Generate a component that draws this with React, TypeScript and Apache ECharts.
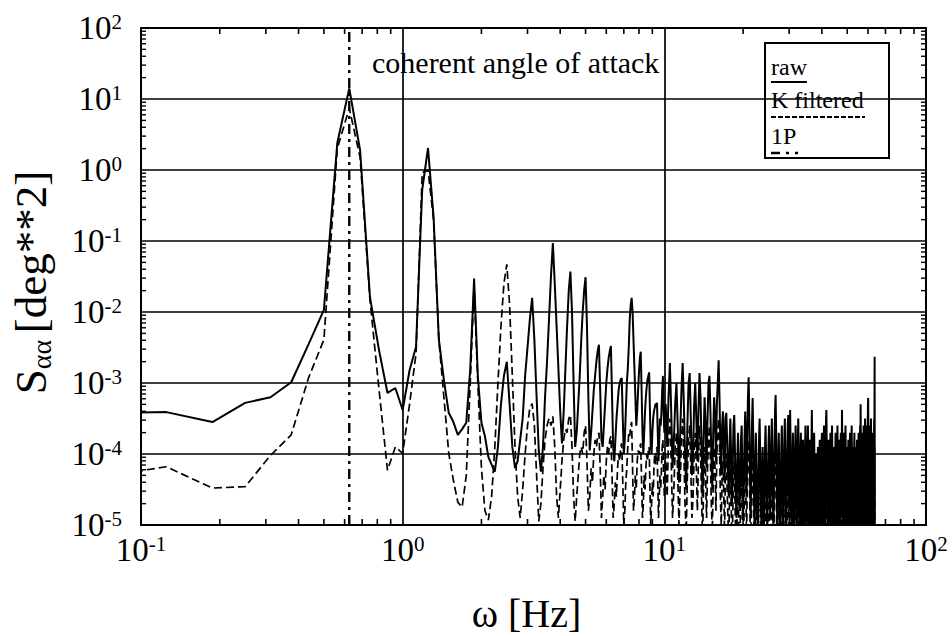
import React, { useEffect, useRef } from 'react';
import * as echarts from 'echarts';

// ---------- data ----------
// Low band: frequency grid k/16 Hz, k = 1..160 (0.0625 .. 10 Hz); values are log10(S)
const LOW_STEP = 1 / 16;
const rawLowLog = [
  -3.43, -3.41, -3.55, -3.28, -3.20, -2.99, -2.45, -1.97, 0.38, 1.15,
  0.28, -1.79, -2.54, -3.14, -3.07, -3.38, -2.82, -2.49, -0.28, 0.31,
  -0.66, -2.39, -2.96, -3.42, -3.55, -3.73, -3.65, -3.56, -2.80, -1.53,
  -2.90, -3.56, -3.75, -4.04, -4.15, -4.25, -3.90, -3.30, -2.90, -2.70,
  -3.30, -3.90, -4.20, -4.10, -3.80, -3.50, -2.90, -2.50, -2.10, -1.80,
  -2.40, -3.20, -3.95, -4.25, -3.90, -3.20, -2.70, -2.10, -1.50, -1.03,
  -1.60, -2.20, -2.80, -3.40, -3.85, -3.40, -2.80, -2.20, -1.70, -1.43,
  -2.00, -3.00, -3.90, -3.70, -3.30, -2.90, -2.40, -2.00, -1.70, -1.51,
  -2.20, -3.20, -3.95, -3.70, -3.40, -3.10, -2.90, -2.70, -2.55, -2.46,
  -3.10, -3.80, -3.90, -3.60, -3.30, -3.00, -2.80, -2.65, -2.55, -2.48,
  -3.20, -3.90, -4.10, -3.80, -3.50, -3.30, -3.10, -3.00, -2.95, -2.93,
  -3.50, -4.00, -3.80, -3.40, -3.00, -2.80, -2.50, -2.10, -1.90, -1.80,
  -2.00, -2.40, -2.80, -3.20, -3.60, -3.40, -3.10, -2.85, -2.65, -2.56,
  -3.10, -3.70, -4.00, -3.70, -3.40, -3.20, -3.05, -2.95, -2.90, -2.85,
  -3.40, -3.90, -4.00, -3.70, -3.50, -3.40, -3.35, -3.30, -3.30, -3.28,
  -3.70, -4.10, -3.80, -3.50, -3.60, -3.40, -3.10, -2.90, -3.40, -3.70,
];
const filtLowLog = [
  -4.35, -4.18, -4.48, -4.46, -4.02, -3.73, -2.92, -2.39, 0.30, 0.87,
  0.18, -1.83, -3.10, -4.23, -3.90, -3.99, -3.30, -2.58, -0.04, 0.00,
  -0.70, -2.39, -3.20, -3.99, -4.37, -4.68, -4.75, -4.30, -3.00, -1.62,
  -3.00, -4.20, -4.80, -4.93, -4.60, -3.90, -3.00, -2.20, -1.60, -1.33,
  -1.90, -2.90, -3.90, -4.60, -4.90, -4.50, -4.00, -3.60, -3.35, -3.29,
  -3.60, -4.30, -4.95, -4.70, -4.20, -3.80, -3.60, -3.50, -3.60, -3.47,
  -3.90, -4.60, -4.90, -4.50, -4.10, -3.80, -3.65, -3.70, -3.50, -3.45,
  -3.90, -4.60, -4.95, -4.60, -4.30, -4.00, -3.90, -4.00, -3.70, -3.60,
  -4.10, -4.80, -4.60, -4.20, -4.40, -4.00, -3.80, -3.90, -3.75, -3.70,
  -4.20, -4.90, -4.60, -4.30, -4.50, -4.10, -3.90, -4.00, -3.80, -3.75,
  -4.30, -4.90, -4.70, -4.40, -4.60, -4.20, -4.00, -4.10, -3.90, -3.85,
  -4.40, -5.00, -4.80, -4.40, -4.20, -3.90, -3.70, -3.75, -3.60, -3.55,
  -4.20, -4.80, -4.60, -4.30, -4.50, -4.10, -3.95, -4.00, -3.90, -3.85,
  -4.40, -4.90, -4.70, -4.30, -4.50, -4.20, -4.00, -4.10, -3.95, -3.90,
  -4.50, -5.00, -4.70, -4.40, -4.60, -4.20, -4.00, -4.15, -3.95, -3.90,
  -4.40, -4.90, -4.60, -4.30, -4.50, -4.20, -3.90, -3.80, -4.30, -4.60,
];
// High band: 10 + j/8 Hz, j = 1..430 (10.125 .. 63.75 Hz); values are log10(S)
const HIGH_START = 10;
const HIGH_STEP = 1 / 8;
const rawHighLog = [
  -3.3, -3.9, -3.2, -2.72, -3.4, -4.2, -3.8, -3.3, -3.0, -3.6, -4.4, -3.7, -3.1, -2.72, -3.3, -4.0, -4.5, -3.6, -3.0, -2.86,
  -3.5, -4.3, -4.0, -3.3, -3.0, -3.5, -4.1, -3.4, -2.86, -3.2, -3.9, -4.6, -3.8, -3.2, -3.6, -4.2, -3.5, -3.0, -2.9, -3.4,
  -4.0, -4.5, -3.7, -3.2, -3.5, -4.1, -3.3, -3.0, -2.68, -3.2, -3.9, -4.3, -3.6, -3.4, -3.9, -4.4, -3.5, -3.42, -3.8, -4.2,
  -4.6, -3.9, -3.5, -4.0, -4.7, -4.2, -3.6, -3.45, -4.0, -4.6, -4.9, -4.1, -3.7, -4.2, -4.8, -4.4, -3.8, -3.6, -4.3, -4.9,
  -4.4, -3.8, -3.4, -3.9, -4.6, -3.7, -3.2, -2.92, -3.5, -4.3, -4.9, -4.2, -3.6, -3.21, -3.8, -4.5, -5.0, -4.3, -3.7, -4.2,
  -4.8, -5.1, -4.4, -3.8, -3.5, -4.0, -4.7, -5.0, -4.3, -3.9, -4.5, -5.2, -4.6, -3.9, -3.6, -4.1, -4.8, -5.1, -4.4, -3.9,
  -3.6, -4.2, -4.9, -4.5, -3.9, -3.5, -4.0, -4.7, -5.1, -4.4, -3.8, -3.4, -3.17, -3.7, -4.4, -5.0, -4.6, -4.0, -3.7, -4.3,
  -4.9, -5.2, -4.5, -3.9, -3.6, -4.1, -4.8, -5.0, -4.3, -3.8, -3.5, -4.0, -4.7, -5.2, -4.6, -4.0, -3.6, -3.45, -4.1, -4.8,
  -4.2, -3.38, -3.9, -4.6, -5.1, -4.7, -4.1, -3.7, -4.2, -4.9, -5.2, -4.5, -3.9, -3.6, -4.0, -4.7, -5.0, -4.4, -3.8, -3.5,
  -4.1, -4.8, -5.2, -4.6, -4.0, -3.7, -4.3, -5.0, -4.7, -4.1, -3.8, -4.4, -5.1, -4.8, -4.2, -3.9, -3.6, -4.2, -4.9, -5.2,
  -4.5, -3.9, -3.6, -4.1, -4.8, -5.1, -4.4, -3.8, -4.3, -4.9, -4.5, -3.9, -3.38, -4.0, -4.7, -5.2, -4.6, -4.0, -3.7, -4.3,
  -4.9, -5.2, -4.5, -4.0, -4.4, -5.0, -4.8, -4.2, -3.9, -4.5, -5.1, -4.7, -4.1, -3.8, -4.3, -4.9, -5.2, -4.6, -4.0, -3.7,
  -4.2, -4.8, -5.1, -4.5, -3.9, -3.6, -4.1, -4.7, -5.0, -4.4, -3.9, -3.5, -3.38, -3.9, -4.6, -5.1, -4.7, -4.1, -3.8, -4.3,
  -4.9, -5.2, -4.6, -4.0, -3.7, -4.2, -4.9, -4.5, -3.9, -3.6, -4.1, -4.8, -5.1, -4.4, -3.9, -4.3, -4.9, -5.2, -4.6, -4.0,
  -3.7, -4.2, -4.8, -5.1, -4.5, -3.9, -3.6, -4.0, -4.6, -5.0, -4.4, -3.8, -4.2, -4.8, -5.2, -4.6, -4.0, -3.7, -4.3, -4.9,
  -4.1, -3.38, -3.9, -4.6, -5.1, -4.6, -4.0, -3.7, -4.2, -4.8, -5.2, -4.5, -3.9, -3.6, -4.1, -4.7, -5.0, -4.4, -3.9, -4.4,
  -5.0, -4.7, -4.1, -3.8, -4.3, -4.9, -5.2, -4.5, -3.9, -3.7, -4.2, -4.8, -5.1, -4.4, -3.8, -3.6, -4.1, -4.7, -5.0, -4.4,
  -3.9, -4.4, -5.0, -4.6, -4.0, -3.7, -4.2, -4.9, -5.2, -4.5, -3.9, -4.3, -4.9, -4.6, -4.0, -3.8, -4.3, -4.9, -5.2, -4.6,
  -4.0, -3.7, -4.2, -4.8, -5.1, -4.5, -3.9, -3.6, -4.1, -3.3, -3.9, -4.6, -5.1, -4.6, -4.0, -3.7, -4.2, -4.8, -5.2, -4.5,
  -3.9, -3.6, -4.1, -4.7, -5.0, -4.4, -3.8, -3.5, -4.0, -4.6, -5.1, -4.6, -4.0, -3.6, -4.1, -4.7, -5.0, -4.3, -3.7, -3.3,
  -3.21, -3.8, -4.5, -5.0, -4.6, -4.0, -3.6, -4.1, -4.7, -5.1, -4.4, -3.8, -3.5, -4.0, -4.6, -5.0, -4.3, -3.7, -4.2, -4.8,
  -4.3, -3.8, -4.4, -5.0, -4.5, -3.9, -3.5, -4.1, -2.63, -5.2,
];
const filtHighLog = [
  -4.0, -4.6, -3.8, -3.5, -4.1, -4.9, -4.5, -3.9, -3.7, -4.3, -5.0, -4.4, -3.8, -3.5, -4.0, -4.7, -5.1, -4.3, -3.8, -3.6,
  -4.2, -4.9, -4.6, -4.0, -3.7, -4.2, -4.8, -4.1, -3.6, -3.9, -4.6, -5.2, -4.5, -3.9, -4.3, -4.9, -4.2, -3.8, -3.6, -4.1,
  -4.7, -5.1, -4.4, -3.9, -4.2, -4.8, -4.0, -3.7, -3.5, -3.9, -4.6, -5.0, -4.3, -4.1, -4.6, -5.1, -4.2, -4.0, -4.5, -4.9,
  -5.2, -4.6, -4.2, -4.7, -5.3, -4.9, -4.3, -4.1, -4.7, -5.2, -5.4, -4.8, -4.4, -4.9, -5.3, -5.0, -4.5, -4.3, -4.9, -5.3,
  -5.0, -4.5, -4.1, -4.6, -5.2, -4.4, -4.0, -3.8, -4.2, -4.9, -5.3, -4.8, -4.3, -4.0, -4.5, -5.1, -5.4, -4.9, -4.4, -4.8,
  -5.3, -5.4, -5.0, -4.5, -4.2, -4.7, -5.2, -5.4, -4.9, -4.5, -5.0, -5.4, -5.1, -4.6, -4.3, -4.8, -5.3, -5.4, -5.0, -4.6,
  -4.3, -4.8, -5.3, -5.1, -4.6, -4.2, -4.7, -5.2, -5.4, -5.0, -4.5, -4.1, -3.9, -4.4, -5.0, -5.4, -5.2, -4.7, -4.4, -4.9,
  -5.3, -5.4, -5.1, -4.6, -4.3, -4.8, -5.3, -5.4, -4.9, -4.5, -4.2, -4.7, -5.2, -5.4, -5.2, -4.7, -4.3, -4.1, -4.7, -5.2,
  -4.8, -4.1, -4.6, -5.2, -5.4, -5.2, -4.8, -4.4, -4.9, -5.3, -5.4, -5.0, -4.6, -4.3, -4.7, -5.2, -5.4, -5.0, -4.5, -4.2,
  -4.8, -5.3, -5.4, -5.1, -4.7, -4.4, -4.9, -5.4, -5.2, -4.8, -4.5, -5.0, -5.4, -5.3, -4.9, -4.6, -4.3, -4.8, -5.3, -5.4,
  -5.1, -4.6, -4.3, -4.8, -5.3, -5.4, -5.0, -4.5, -4.9, -5.3, -5.1, -4.6, -4.1, -4.7, -5.2, -5.4, -5.2, -4.7, -4.4, -4.9,
  -5.3, -5.4, -5.1, -4.7, -5.0, -5.4, -5.3, -4.9, -4.6, -5.1, -5.4, -5.2, -4.8, -4.5, -4.9, -5.3, -5.4, -5.2, -4.7, -4.4,
  -4.9, -5.3, -5.4, -5.1, -4.6, -4.3, -4.8, -5.3, -5.4, -5.0, -4.6, -4.2, -4.1, -4.6, -5.2, -5.4, -5.3, -4.8, -4.5, -5.0,
  -5.3, -5.4, -5.2, -4.7, -4.4, -4.9, -5.4, -5.1, -4.6, -4.3, -4.8, -5.3, -5.4, -5.0, -4.6, -5.0, -5.4, -5.4, -5.2, -4.7,
  -4.4, -4.9, -5.3, -5.4, -5.1, -4.6, -4.3, -4.7, -5.2, -5.4, -5.0, -4.5, -4.9, -5.3, -5.4, -5.2, -4.7, -4.4, -5.0, -5.4,
  -4.8, -4.1, -4.6, -5.2, -5.4, -5.2, -4.7, -4.4, -4.9, -5.3, -5.4, -5.1, -4.6, -4.3, -4.8, -5.3, -5.4, -5.0, -4.6, -5.0,
  -5.4, -5.3, -4.8, -4.5, -5.0, -5.4, -5.4, -5.1, -4.6, -4.4, -4.9, -5.3, -5.4, -5.0, -4.5, -4.3, -4.8, -5.3, -5.4, -5.0,
  -4.6, -5.1, -5.4, -5.2, -4.7, -4.4, -4.9, -5.4, -5.4, -5.1, -4.6, -5.0, -5.4, -5.2, -4.7, -4.5, -5.0, -5.4, -5.4, -5.2,
  -4.7, -4.4, -4.9, -5.3, -5.4, -5.1, -4.6, -4.3, -4.8, -4.1, -4.6, -5.2, -5.4, -5.2, -4.7, -4.4, -4.9, -5.3, -5.4, -5.1,
  -4.6, -4.3, -4.8, -5.3, -5.4, -5.0, -4.5, -4.2, -4.7, -5.2, -5.4, -5.2, -4.7, -4.3, -4.8, -5.3, -5.4, -5.0, -4.4, -4.0,
  -4.0, -4.5, -5.1, -5.4, -5.2, -4.7, -4.3, -4.8, -5.3, -5.4, -5.0, -4.5, -4.2, -4.7, -5.2, -5.4, -5.0, -4.4, -4.9, -5.3,
  -5.0, -4.5, -5.0, -5.4, -5.1, -4.6, -4.2, -4.7, -3.9, -5.4,
];
const onePFreq = 0.625; // Hz, coherent angle of attack (1P)
const X_MIN = 0.1;
const X_MAX = 100;
const Y_MIN = 1e-5;
const Y_MAX = 1e2;
const minorXTicks = [
  0.2, 0.3, 0.4, 0.5, 0.6, 0.7, 0.8, 0.9,
  2, 3, 4, 5, 6, 7, 8, 9,
  20, 30, 40, 50, 60, 70, 80, 90,
];
const minorYMantissas = [2, 3, 4, 5, 6, 7, 8, 9];
const yDecades = [-5, -4, -3, -2, -1, 0, 1];

const SERIF = '"Liberation Serif", "Times New Roman", "DejaVu Serif", serif';

function buildSeries(lowLog: number[], highLog: number[]): number[][] {
  const out: number[][] = [];
  lowLog.forEach((v, i) => out.push([(i + 1) * LOW_STEP, Math.pow(10, v)]));
  highLog.forEach((v, j) => out.push([HIGH_START + (j + 1) * HIGH_STEP, Math.pow(10, v)]));
  return out;
}

export default function App() {
  const ref = useRef<HTMLDivElement>(null);

  useEffect(() => {
    if (!ref.current) return;
    const chart = echarts.init(ref.current, undefined, { renderer: 'svg' });

    const rawData = buildSeries(rawLowLog, rawHighLog);
    const filtData = buildSeries(filtLowLog, filtHighLog);
    const minorY: number[] = [];
    yDecades.forEach((d) => minorYMantissas.forEach((m) => minorY.push(m * Math.pow(10, d))));

    const expLabel = (v: number) => '{b|10}{s|' + Math.round(Math.log10(v)) + '}';
    const labelRich = {
      b: { fontFamily: SERIF, fontSize: 33, color: '#000', lineHeight: 34 },
      s: { fontFamily: SERIF, fontSize: 21, color: '#000', lineHeight: 20, verticalAlign: 'top' },
    };

    const option: any = {
      animation: false,
      backgroundColor: '#fff',
      grid: {
        left: 141, right: 26, top: 28, bottom: 111,
        show: true, borderColor: '#000', borderWidth: 2,
        outerBoundsMode: 'none',
      },
      xAxis: {
        type: 'log', logBase: 10, min: X_MIN, max: X_MAX, splitNumber: 3,
        axisLine: { show: false },
        axisTick: { show: false },
        splitLine: { show: true, lineStyle: { color: '#000', width: 1.7 } },
        axisLabel: { margin: 8, formatter: expLabel, rich: labelRich },
        name: 'ω [Hz]',
        nameLocation: 'middle',
        nameGap: 68,
        nameTextStyle: { fontFamily: SERIF, fontSize: 40, lineHeight: 40, color: '#000', padding: [0, 14, 0, 0] },
      },
      yAxis: {
        type: 'log', logBase: 10, min: Y_MIN, max: Y_MAX, splitNumber: 7,
        axisLine: { show: false },
        axisTick: { show: false },
        splitLine: { show: true, lineStyle: { color: '#000', width: 1.7 } },
        axisLabel: { margin: 19, formatter: expLabel, rich: labelRich },
        name: '{m|S}{sub|αα}  {m|[deg**2]}',
        nameLocation: 'middle',
        nameGap: 86,
        nameRotate: 90,
        nameTextStyle: {
          color: '#000',
          padding: [0, 12, 0, 0],
          rich: {
            m: { fontFamily: SERIF, fontSize: 45, color: '#000', lineHeight: 48 },
            sub: { fontFamily: SERIF, fontSize: 28, color: '#000', lineHeight: 30, verticalAlign: 'bottom' },
          },
        },
      },
      series: [
        {
          name: 'K filtered', type: 'line', data: filtData, symbol: 'none', clip: true,
          lineStyle: { color: '#000', width: 1.7, type: [8, 4] }, z: 3,
        },
        {
          name: 'raw', type: 'line', data: rawData, symbol: 'none', clip: true,
          lineStyle: { color: '#000', width: 2 }, z: 4,
        },
        {
          name: '1P', type: 'line', data: [[onePFreq, Y_MIN], [onePFreq, Y_MAX]], symbol: 'none',
          lineStyle: { color: '#000', width: 2.4, type: [10, 5, 3, 5] }, z: 5,
        },
        {
          type: 'custom', coordinateSystem: 'cartesian2d', silent: true, clip: false, z: 6,
          data: minorXTicks.map((v) => [v, Y_MIN]),
          renderItem: (_p: any, api: any) => {
            const v = api.value(0);
            const b = api.coord([v, Y_MIN]);
            const t = api.coord([v, Y_MAX]);
            const st = { stroke: '#000', lineWidth: 1.6 };
            return {
              type: 'group',
              children: [
                { type: 'line', shape: { x1: b[0], y1: b[1], x2: b[0], y2: b[1] - 6 }, style: st },
                { type: 'line', shape: { x1: t[0], y1: t[1], x2: t[0], y2: t[1] + 6 }, style: st },
              ],
            };
          },
        },
        {
          type: 'custom', coordinateSystem: 'cartesian2d', silent: true, clip: false, z: 6,
          data: minorY.map((v) => [X_MIN, v]),
          renderItem: (_p: any, api: any) => {
            const v = api.value(1);
            const l = api.coord([X_MIN, v]);
            const r = api.coord([X_MAX, v]);
            const st = { stroke: '#000', lineWidth: 1.4 };
            return {
              type: 'group',
              children: [
                { type: 'line', shape: { x1: l[0], y1: l[1], x2: l[0] + 5, y2: l[1] }, style: st },
                { type: 'line', shape: { x1: r[0], y1: r[1], x2: r[0] - 5, y2: r[1] }, style: st },
              ],
            };
          },
        },
      ],
      graphic: [
        {
          type: 'text', left: 372, top: 47, z: 20,
          style: { text: 'coherent angle of attack', font: '30px ' + SERIF, fill: '#000' },
        },
        {
          type: 'group', z: 20,
          children: [
            { type: 'rect', shape: { x: 765, y: 43, width: 124, height: 115 }, style: { fill: '#fff', stroke: '#000', lineWidth: 2 } },
            { type: 'text', x: 771, y: 67, style: { text: 'raw', font: '24px ' + SERIF, fill: '#000', textVerticalAlign: 'middle' } },
            { type: 'line', shape: { x1: 771, y1: 82, x2: 807, y2: 82 }, style: { stroke: '#000', lineWidth: 2 } },
            { type: 'text', x: 771, y: 100, style: { text: 'K filtered', font: '24px ' + SERIF, fill: '#000', textVerticalAlign: 'middle' } },
            { type: 'line', shape: { x1: 771, y1: 117, x2: 865, y2: 117 }, style: { stroke: '#000', lineWidth: 2, lineDash: [5, 2] } },
            { type: 'text', x: 771, y: 136, style: { text: '1P', font: '24px ' + SERIF, fill: '#000', textVerticalAlign: 'middle' } },
            { type: 'line', shape: { x1: 771, y1: 153, x2: 798, y2: 153 }, style: { stroke: '#000', lineWidth: 2.4, lineDash: [9, 6, 3, 6] } },
          ],
        },
      ],
    };

    chart.setOption(option);
    return () => chart.dispose();
  }, []);

  return (
    <div
      ref={ref}
      style={{ position: 'fixed', left: 0, top: 0, width: 952, height: 636, background: '#fff' }}
    />
  );
}
